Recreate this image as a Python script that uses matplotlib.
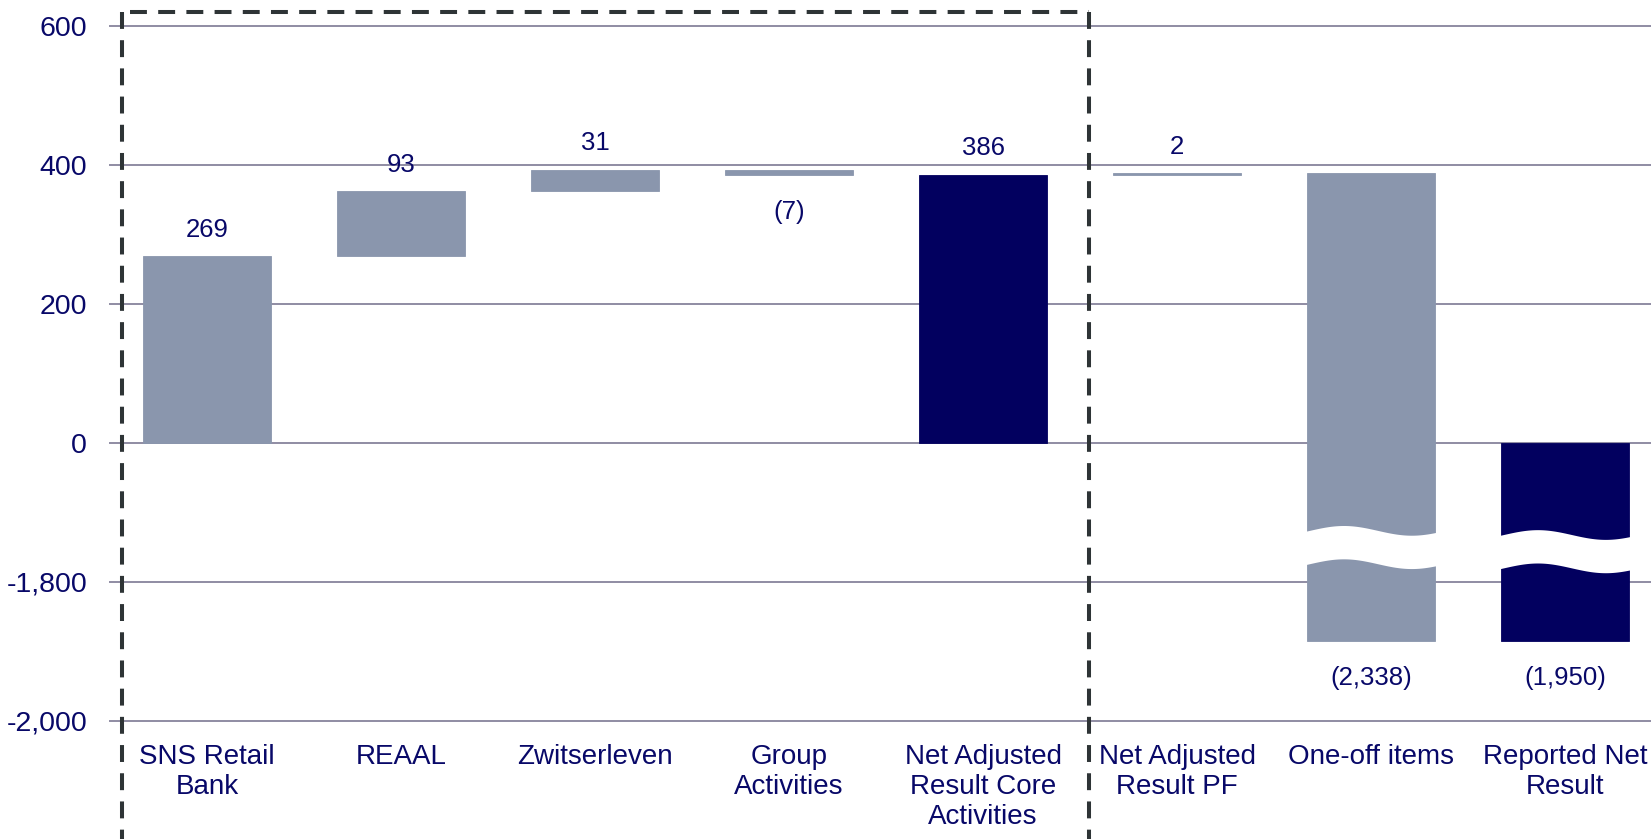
import numpy as np
import matplotlib
matplotlib.use("Agg")
import matplotlib.pyplot as plt
from matplotlib.lines import Line2D

# data
categories = ["SNS Retail\nBank", "REAAL", "Zwitserleven", "Group\nActivities",
              "Net Adjusted\nResult Core\nActivities", "Net Adjusted\nResult PF",
              "One-off items", "Reported Net\nResult"]
values = [269, 93, 31, -7, 386, 2, -2338, -1950]
is_total = [False, False, False, False, True, False, False, True]
tick_values = [600, 400, 200, 0, -1800, -2000]
tick_labels = ["600", "400", "200", "0", "-1,800", "-2,000"]

GREY = "#8a96ad"
NAVY = "#02005f"
TXT = "#080868"
GRID = "#8f8ca3"
DASH = "#2e3436"

# axis break: below zero the axis jumps; drawn positions of the ticks
tick_drawn = [600, 400, 200, 0, -200, -400]
break_floor = -285   # where truncated (broken) bars end on the drawn axis

plt.rcParams['font.family'] = ['Liberation Sans', 'DejaVu Sans']

fig = plt.figure(figsize=(16.51, 8.39), dpi=100)
W, H = 1651, 839
ax_left, ax_right = 110, 1651
ax_top, ax_bot = 26, 720.7
ax = fig.add_axes([ax_left / W, 1 - ax_bot / H, (ax_right - ax_left) / W, (ax_bot - ax_top) / H])
step = 194.0
ax.set_xlim(-0.5, -0.5 + (ax_right - ax_left) / step)
ax.set_ylim(-400, 600)
for s in ax.spines.values():
    s.set_visible(False)

for y in tick_drawn:
    ax.axhline(y, color=GRID, lw=1.4, zorder=1, clip_on=False)

x = np.arange(len(categories))
running = 0
bar_w = 0.66
for i, v in enumerate(values):
    if is_total[i]:
        lo, hi = min(0, v), max(0, v)
        color = NAVY
        running = v
    else:
        start = running
        running = running + v
        lo, hi = min(start, running), max(start, running)
        color = GREY
    broken = lo < 0
    draw_lo = break_floor if broken else lo
    ax.bar(x[i], hi - draw_lo, bottom=draw_lo, width=bar_w, color=color,
           edgecolor=color, linewidth=0.6, zorder=2)
    label = f"{v:,}" if v >= 0 else f"({-v:,})"
    if v >= 0:
        ax.annotate(label, (x[i], hi), xytext=(0, 19), textcoords="offset points",
                    ha="center", va="center", fontsize=18.5, color=TXT)
    else:
        ax.annotate(label, (x[i], draw_lo), xytext=(0, -27), textcoords="offset points",
                    ha="center", va="center", fontsize=18.5, color=TXT)
    if broken:
        # white wavy band marking the axis break
        c = -150 if not is_total[i] else -156
        xs = np.linspace(x[i] - bar_w / 2 - 0.02, x[i] + bar_w / 2 + 0.02, 100)
        t = (xs - xs[0]) / (xs[-1] - xs[0])
        wave = 7 * np.sin(2 * np.pi * t - 0.3)
        ax.fill_between(xs, c - 24 + wave, c + 24 + wave, color="white", lw=0, zorder=3)

ax.set_yticks(tick_drawn)
ax.set_yticklabels(tick_labels)
ax.set_xticks(x)
ax.set_xticklabels(categories, linespacing=1.2)
ax.tick_params(axis="y", length=0, pad=16.5, labelsize=20.5, labelcolor=TXT)
ax.tick_params(axis="x", length=0, pad=17, labelsize=20, labelcolor=TXT)

# dashed box around the core activities
dash_kw = dict(color=DASH, lw=2.9, dashes=(4.2, 2.8), transform=fig.transFigure)
xl, xr, yt = 122 / W, 1089 / W, 1 - 12 / H
fig.add_artist(Line2D([xl, xl], [yt, 0], **dash_kw))
fig.add_artist(Line2D([xr, xr], [yt, 0], **dash_kw))
fig.add_artist(Line2D([xl + 8 / W, xr], [yt, yt], **dash_kw))

fig.savefig("out.png", dpi=100)
